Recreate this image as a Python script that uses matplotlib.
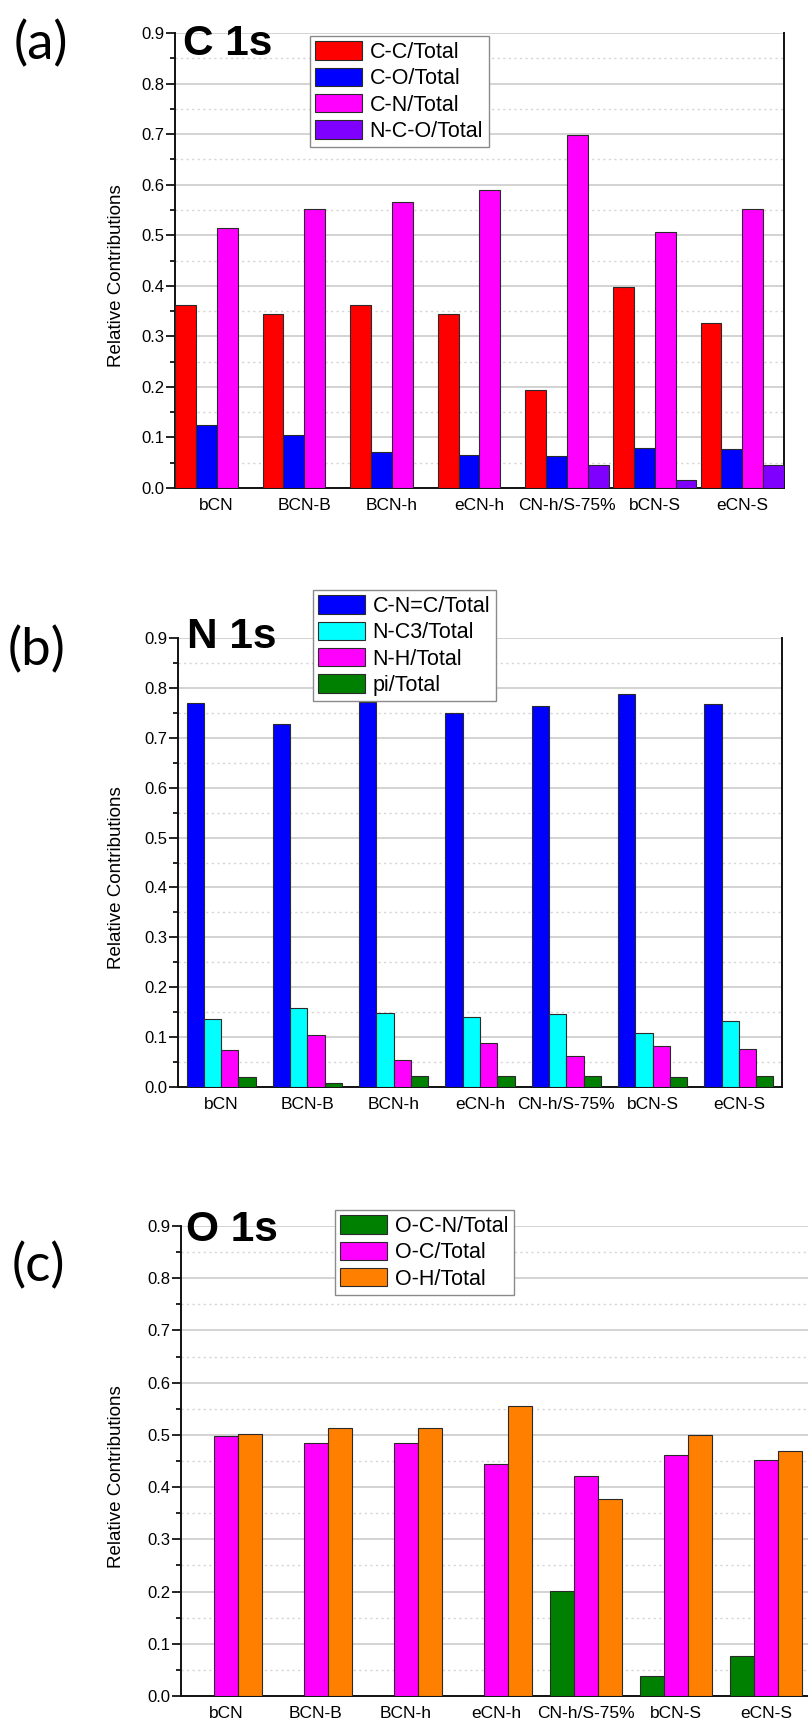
import numpy as np
import matplotlib
matplotlib.use("Agg")
import matplotlib.pyplot as plt
from matplotlib.ticker import MultipleLocator, FormatStrFormatter

plt.rcParams['font.family'] = ['Liberation Sans', 'DejaVu Sans']

samples = ['bCN', 'BCN-B', 'BCN-h', 'eCN-h', 'CN-h/S-75%', 'bCN-S', 'eCN-S']

# (a) C 1s
c_labels = ['C-C/Total', 'C-O/Total', 'C-N/Total', 'N-C-O/Total']
c_cc = [0.361, 0.344, 0.362, 0.344, 0.193, 0.398, 0.326]
c_co = [0.125, 0.105, 0.071, 0.066, 0.064, 0.079, 0.078]
c_cn = [0.514, 0.551, 0.565, 0.590, 0.698, 0.506, 0.551]
c_nco = [0.0, 0.0, 0.0, 0.0, 0.045, 0.016, 0.045]
c_colors = ['#ff0000', '#0000ff', '#ff00ff', '#8000ff']

# (b) N 1s
n_labels = ['C-N=C/Total', 'N-C3/Total', 'N-H/Total', 'pi/Total']
n_cnc = [0.769, 0.728, 0.771, 0.749, 0.764, 0.788, 0.768]
n_nc3 = [0.136, 0.158, 0.149, 0.140, 0.147, 0.109, 0.132]
n_nh = [0.074, 0.104, 0.055, 0.088, 0.063, 0.082, 0.077]
n_pi = [0.021, 0.009, 0.023, 0.0215, 0.023, 0.020, 0.0215]
n_colors = ['#0000ff', '#00ffff', '#ff00ff', '#008000']

# (c) O 1s
o_labels = ['O-C-N/Total', 'O-C/Total', 'O-H/Total']
o_ocn = [0.0, 0.0, 0.0, 0.0, 0.201, 0.0385, 0.076]
o_oc = [0.4985, 0.485, 0.485, 0.444, 0.421, 0.461, 0.451]
o_oh = [0.502, 0.514, 0.514, 0.556, 0.378, 0.499, 0.470]
o_colors = ['#008000', '#ff00ff', '#ff8000']

W, H = 808.0, 1723.0
fig = plt.figure(figsize=(W / 100, H / 100), dpi=100)


def make_panel(box, series, labels, colors, width, pad, title, tag, title_xy, tag_xy, leg_xy):
    # box = left, right, top(0.9), bottom(0.0) in pixels
    l, r, t, b = box
    ax = fig.add_axes([l / W, 1 - b / H, (r - l) / W, (b - t) / H])
    x = np.arange(len(samples))
    n = len(series)
    for i, vals in enumerate(series):
        ax.bar(x + (i - (n - 1) / 2.0) * width, vals, width, color=colors[i],
               edgecolor='#2a2a2a', linewidth=0.8, label=labels[i], zorder=3)
    ax.set_xlim(-pad, len(samples) - 1 + pad)
    ax.set_ylim(0, 0.9)
    ax.set_xticks(x)
    ax.set_xticklabels(samples, fontsize=12.5)
    ax.yaxis.set_major_locator(MultipleLocator(0.1))
    ax.yaxis.set_minor_locator(MultipleLocator(0.05))
    ax.yaxis.set_major_formatter(FormatStrFormatter('%.1f'))
    ax.tick_params(axis='x', length=0, pad=7)
    ax.tick_params(axis='y', which='major', direction='out', length=6.5, width=1.2, pad=1, labelsize=12)
    ax.tick_params(axis='y', which='minor', direction='out', length=3.6, width=1.2)
    ax.grid(axis='y', which='major', color='#c8c8c8', linewidth=1.1, linestyle='-', zorder=0)
    ax.grid(axis='y', which='minor', color='#d4d4d4', linewidth=1.0, linestyle=(0, (1.5, 2.5)), zorder=0)
    ax.set_axisbelow(True)
    ax.spines['top'].set_visible(False)
    for s in ['left', 'bottom', 'right']:
        ax.spines[s].set_linewidth(1.4)
        ax.spines[s].set_color('#111111')
    ax.set_ylabel('Relative Contributions', fontsize=13.5)
    ax.yaxis.set_label_coords((125 - l) / (r - l), 0.467)

    ax.legend(loc='upper left', bbox_to_anchor=(leg_xy[0] / W, 1 - leg_xy[1] / H),
              bbox_transform=fig.transFigure, borderaxespad=0, fontsize=15.5,
              handlelength=2.15, handleheight=0.93, handletextpad=0.37, labelspacing=0.22,
              borderpad=0.25, fancybox=False, framealpha=1, edgecolor='#8a8a8a')

    fig.text(title_xy[0] / W, 1 - title_xy[1] / H, title, fontsize=30.5, fontweight='bold',
             va='baseline', ha='left')
    fig.text(tag_xy[0] / W, 1 - tag_xy[1] / H, tag, fontsize=38, family=['Lato', 'DejaVu Sans'],
             va='center', ha='left')
    return ax


make_panel((175, 784, 33, 488), [c_cc, c_co, c_cn, c_nco], c_labels, c_colors, 0.238, 0.476,
           'C 1s', '(a)', (183, 55), (14, 44), (310, 36))
make_panel((178, 782, 638, 1087), [n_cnc, n_nc3, n_nh, n_pi], n_labels, n_colors, 0.2, 0.5,
           'N 1s', '(b)', (187, 648), (8, 650), (313, 590))
make_panel((181, 811, 1226, 1696), [o_ocn, o_oc, o_oh], o_labels, o_colors, 0.27, 0.5,
           'O 1s', '(c)', (186, 1241), (12, 1266), (335, 1210))

fig.savefig('out.png', dpi=100)
